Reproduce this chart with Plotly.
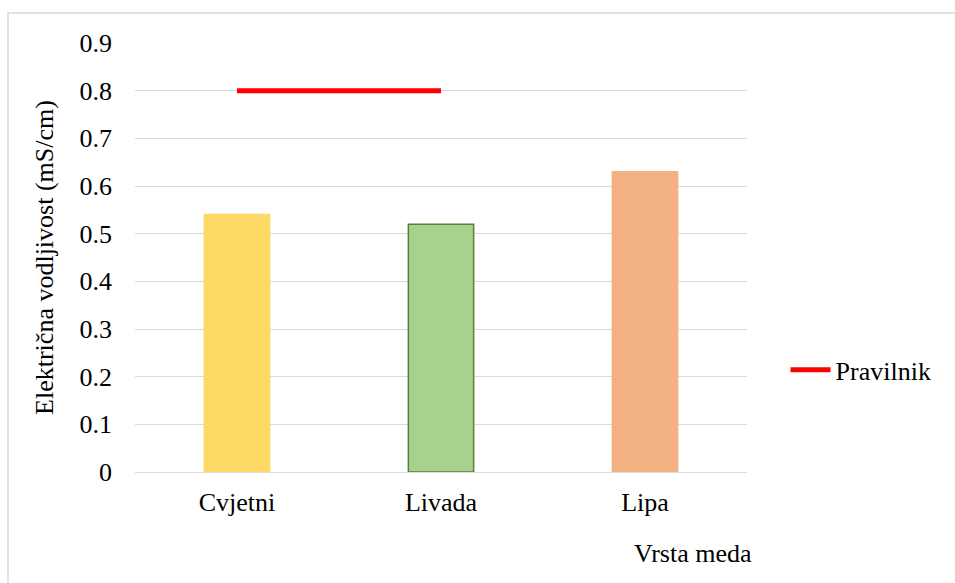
import plotly.graph_objects as go

categories = ["Cvjetni", "Livada", "Lipa"]
values = [0.54, 0.52, 0.63]
bar_colors = ["#FFD966", "#A9D18E", "#F4B183"]
bar_line_colors = ["#FFD966", "#548235", "#F4B183"]
limit_categories = ["Cvjetni", "Livada"]
limit_values = [0.8, 0.8]
y_ticks = [0, 0.1, 0.2, 0.3, 0.4, 0.5, 0.6, 0.7, 0.8, 0.9]
y_tick_labels = ["0", "0.1", "0.2", "0.3", "0.4", "0.5", "0.6", "0.7", "0.8", "0.9"]

font_family = "Liberation Serif"
fs = 26

fig = go.Figure()
fig.add_trace(go.Bar(
    x=categories, y=values,
    marker=dict(color=bar_colors, line=dict(color=bar_line_colors, width=1.5)),
    width=0.32, showlegend=False, hoverinfo="x+y",
))
fig.add_trace(go.Scatter(
    x=limit_categories, y=limit_values, mode="lines", name="Pravilnik",
    line=dict(color="#FF0000", width=5),
))

fig.update_layout(
    width=955, height=583,
    margin=dict(l=135, r=208, t=43, b=111),
    paper_bgcolor="white", plot_bgcolor="white",
    font=dict(family=font_family, size=fs, color="black"),
    xaxis=dict(
        type="category", range=[-0.5, 2.5], showgrid=False, showline=False,
        zeroline=False, ticks="", tickfont=dict(size=fs), ticklabelstandoff=12,
    ),
    yaxis=dict(
        range=[0, 0.9], tickvals=y_ticks, ticktext=y_tick_labels,
        showgrid=True, gridcolor="#D9D9D9", gridwidth=1, zeroline=True,
        zerolinecolor="#D9D9D9", zerolinewidth=1, showline=False, ticks="",
        tickfont=dict(size=fs), ticklabelstandoff=22,
        title=dict(text="Električna vodljivost (mS/cm)", font=dict(size=fs), standoff=18),
    ),
    legend=dict(x=1.063, y=0.238, xanchor="left", yanchor="middle",
                font=dict(size=fs), bgcolor="rgba(0,0,0,0)", itemwidth=40),
    annotations=[dict(
        text="Vrsta meda", xref="paper", yref="paper", x=0.912, y=-0.189,
        xanchor="center", yanchor="middle", showarrow=False, font=dict(size=fs),
    )],
    shapes=[dict(
        type="rect", xref="paper", yref="paper", x0=-0.2075, x1=1.4,
        y0=-0.3, y1=1.07, line=dict(color="#D9D9D9", width=1.5),
        fillcolor="rgba(0,0,0,0)", layer="below",
    )],
)

fig.write_html("out.html", config={"displayModeBar": False},
               post_script="document.body.style.margin='0';")
